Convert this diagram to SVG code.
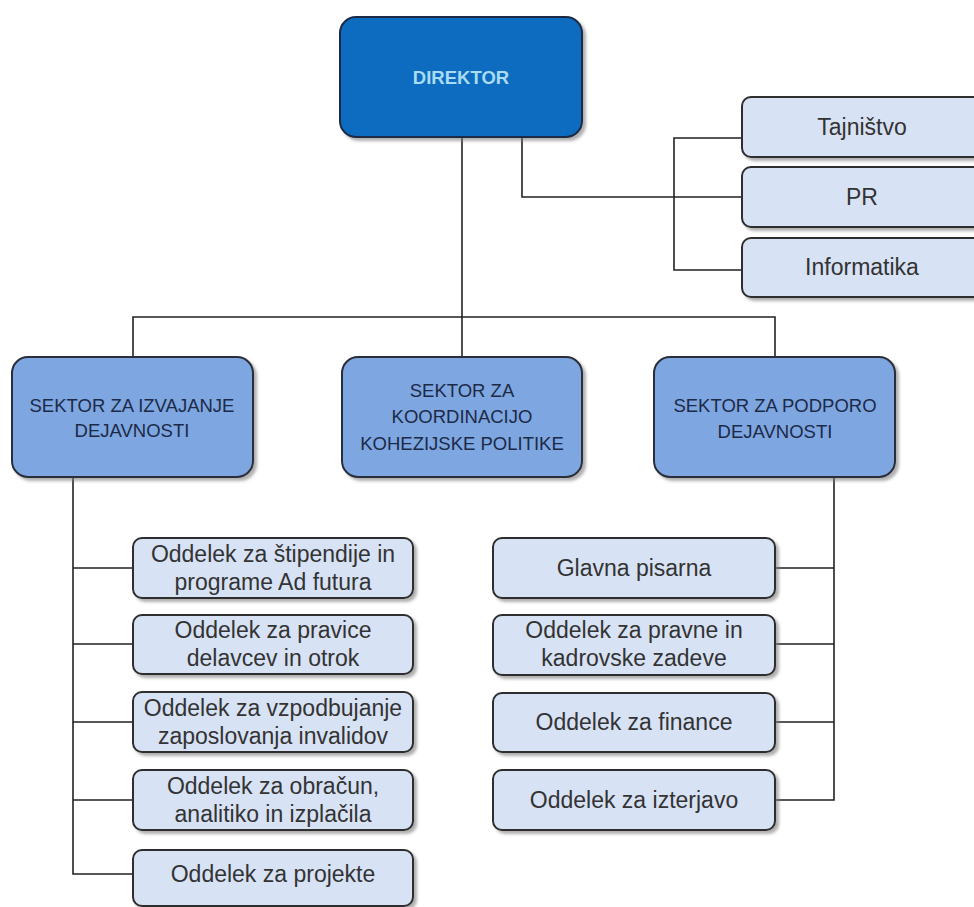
<svg xmlns="http://www.w3.org/2000/svg" width="974" height="907" viewBox="0 0 974 907">
<defs>
<filter id="sh" x="-10%" y="-10%" width="125%" height="130%">
<feDropShadow dx="3" dy="3" stdDeviation="1.5" flood-color="#7a7a7a" flood-opacity="0.6"/>
</filter>
</defs>
<style>
.dir{fill:#0a6cc0;stroke:#1c2b45;stroke-width:2;filter:url(#sh)}
.sec{fill:#7ea6e0;stroke:#2a2f3a;stroke-width:2;filter:url(#sh)}
.sub{fill:#d7e2f5;stroke:#2d2d2d;stroke-width:2;filter:url(#sh)}
.tdir{font-family:"Liberation Sans",Arial,sans-serif;font-weight:bold;font-size:18.5px;fill:#a9dcf3;text-anchor:middle}
.tsec{font-family:"Liberation Sans",Arial,sans-serif;font-size:18.5px;fill:#1c2a48;text-anchor:middle}
.tsub{font-family:"Liberation Sans",Arial,sans-serif;font-size:23px;fill:#333333;text-anchor:middle}
.ln{fill:none;stroke:#222222;stroke-width:1.6}
</style>
<rect width="974" height="907" fill="#ffffff"/>
<g id="connectors">
<path class="ln" d="M462,137 V357"/>
<path class="ln" d="M133,357 V317 H775 V357"/>
<path class="ln" d="M522,137 V197 H742"/>
<path class="ln" d="M742,138 H674 V270 H742"/>
<path class="ln" d="M73,477 V874 H133"/>
<path class="ln" d="M73,568 H133 M73,644 H133 M73,722 H133 M73,800 H133"/>
<path class="ln" d="M834,477 V800 H775"/>
<path class="ln" d="M775,568 H834 M775,644 H834 M775,722 H834"/>
</g>
<g id="direktor">
<rect class="dir" x="340" y="17" width="242" height="120" rx="16"/>
<text class="tdir" x="461" y="84">DIREKTOR</text>
</g>
<g id="tajnistvo">
<rect class="sub" x="742" y="97" width="250" height="60" rx="9"/>
<text class="tsub" x="862" y="135">Tajništvo</text>
</g>
<g id="pr">
<rect class="sub" x="742" y="167" width="250" height="60" rx="9"/>
<text class="tsub" x="862" y="205">PR</text>
</g>
<g id="informatika">
<rect class="sub" x="742" y="238" width="250" height="59" rx="9"/>
<text class="tsub" x="862" y="275">Informatika</text>
</g>
<g id="sektor-izvajanje">
<rect class="sec" x="12" y="357" width="241" height="120" rx="16"/>
<text class="tsec" x="132" y="412">SEKTOR ZA IZVAJANJE</text>
<text class="tsec" x="132" y="437">DEJAVNOSTI</text>
</g>
<g id="sektor-koordinacija">
<rect class="sec" x="342" y="357" width="240" height="120" rx="16"/>
<text class="tsec" x="462" y="397">SEKTOR ZA</text>
<text class="tsec" x="462" y="423">KOORDINACIJO</text>
<text class="tsec" x="462" y="450">KOHEZIJSKE POLITIKE</text>
</g>
<g id="sektor-podpora">
<rect class="sec" x="654" y="357" width="241" height="120" rx="16"/>
<text class="tsec" x="775" y="412">SEKTOR ZA PODPORO</text>
<text class="tsec" x="775" y="438">DEJAVNOSTI</text>
</g>
<g id="odd-stipendije">
<rect class="sub" x="133" y="538" width="280" height="60" rx="9"/>
<text class="tsub" x="273" y="562">Oddelek za štipendije in</text>
<text class="tsub" x="273" y="590">programe Ad futura</text>
</g>
<g id="odd-pravice">
<rect class="sub" x="133" y="615" width="280" height="59" rx="9"/>
<text class="tsub" x="273" y="638">Oddelek za pravice</text>
<text class="tsub" x="273" y="666">delavcev in otrok</text>
</g>
<g id="odd-invalidi">
<rect class="sub" x="133" y="692" width="280" height="60" rx="9"/>
<text class="tsub" x="273" y="716">Oddelek za vzpodbujanje</text>
<text class="tsub" x="273" y="744">zaposlovanja invalidov</text>
</g>
<g id="odd-obracun">
<rect class="sub" x="133" y="770" width="280" height="60" rx="9"/>
<text class="tsub" x="273" y="794">Oddelek za obračun,</text>
<text class="tsub" x="273" y="822">analitiko in izplačila</text>
</g>
<g id="odd-projekti">
<rect class="sub" x="133" y="850" width="280" height="56" rx="9"/>
<text class="tsub" x="273" y="882">Oddelek za projekte</text>
</g>
<g id="glavna-pisarna">
<rect class="sub" x="493" y="538" width="282" height="60" rx="9"/>
<text class="tsub" x="634" y="576">Glavna pisarna</text>
</g>
<g id="odd-pravne">
<rect class="sub" x="493" y="615" width="282" height="60" rx="9"/>
<text class="tsub" x="634" y="638">Oddelek za pravne in</text>
<text class="tsub" x="634" y="666">kadrovske zadeve</text>
</g>
<g id="odd-finance">
<rect class="sub" x="493" y="693" width="282" height="59" rx="9"/>
<text class="tsub" x="634" y="730">Oddelek za finance</text>
</g>
<g id="odd-izterjava">
<rect class="sub" x="493" y="770" width="282" height="60" rx="9"/>
<text class="tsub" x="634" y="808">Oddelek za izterjavo</text>
</g>
</svg>
